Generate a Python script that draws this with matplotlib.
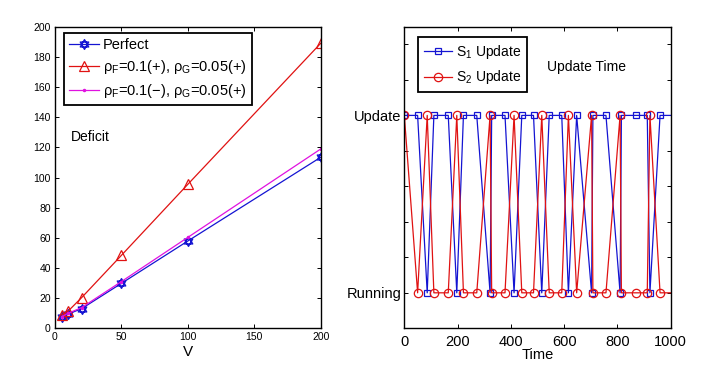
import matplotlib
matplotlib.use("Agg")
import matplotlib.pyplot as plt
from matplotlib.path import Path

plt.rcParams['font.family'] = ['Liberation Sans', 'DejaVu Sans']
plt.rcParams['mathtext.fontset'] = 'custom'
plt.rcParams['mathtext.rm'] = 'Liberation Sans'
plt.rcParams['mathtext.it'] = 'Liberation Sans'
plt.rcParams['mathtext.default'] = 'regular'

# ---- Left panel data ----
V = [5, 10, 20, 50, 100, 200]
perfect = [7.7, 9.5, 13.0, 29.8, 57.9, 113.4]
rho_pp = [8.8, 11.5, 20.3, 48.4, 95.5, 189.0]
rho_mp = [7.7, 10.0, 13.7, 31.0, 60.3, 118.9]
left_labels = ['Perfect',
               r'$\rho_F$=0.1(+), $\rho_G$=0.05(+)',
               r'$\rho_F$=0.1(−), $\rho_G$=0.05(+)']

# ---- Right panel data ----
times = [0, 50, 86, 111, 165, 197, 222, 272, 322, 328, 378, 412, 441, 485,
         516, 544, 591, 616, 647, 703, 708, 757, 810, 815, 870, 912, 922, 960, 1000]
s1 = [1, 1, 0, 1, 1, 0, 1, 1, 0, 1, 1, 0, 1, 1,
      0, 1, 1, 0, 1, 0, 1, 1, 0, 1, 1, 1, 0, 1, 1]
s2 = [1, 0, 1, 0, 0, 1, 0, 0, 1, 0, 0, 1, 0, 0,
      1, 0, 0, 1, 0, 1, 0, 0, 1, 0, 0, 0, 1, 0, 0]
right_labels = ['S$_1$ Update', 'S$_2$ Update']
state_names = ['Running', 'Update']

# hexagram marker (two overlapping triangles)
hexagram = Path(
    [(0, 1), (-0.866, -0.5), (0.866, -0.5), (0, 1),
     (0, -1), (-0.866, 0.5), (0.866, 0.5), (0, -1)],
    [Path.MOVETO, Path.LINETO, Path.LINETO, Path.CLOSEPOLY,
     Path.MOVETO, Path.LINETO, Path.LINETO, Path.CLOSEPOLY])

fig = plt.figure(figsize=(7.06, 3.75), dpi=100)
W, H = 706, 375
bottom = (H - 328.3) / H
top = (H - 26.7) / H
ax1 = fig.add_axes([55 / W, bottom, (320.7 - 55) / W, top - bottom])
ax2 = fig.add_axes([404.3 / W, bottom, (670.7 - 404.3) / W, top - bottom])

blue = '#1414d2'
red = '#e01212'
mag = '#e012e0'
lw = 0.9
ax1.plot(V, perfect, color=blue, lw=lw, marker=hexagram, ms=7, mfc='none',
         mec=blue, mew=1.0, label=left_labels[0])
ax1.plot(V, rho_pp, color=red, lw=lw, marker='^', ms=7.5, mfc='none',
         mec=red, mew=0.9, label=left_labels[1])
ax1.plot(V, rho_mp, color=mag, lw=lw, marker='.', ms=3,
         label=left_labels[2])
ax1.set_xlim(0, 200)
ax1.set_ylim(0, 200)
ax1.set_xticks([0, 50, 100, 150, 200])
ax1.set_yticks(range(0, 201, 20))
ax1.tick_params(direction='in', top=True, right=True, labelsize=7.5, length=3,
                width=0.7, pad=3)
ax1.set_xlabel('V', fontsize=11, labelpad=2)
ax1.text(12, 126.8, 'Deficit', fontsize=10, va='center', ha='left')
leg1 = ax1.legend(loc='upper left', bbox_to_anchor=(0.035, 0.978), fontsize=10.5,
                  fancybox=False, edgecolor='black', framealpha=1,
                  handlelength=2.0, borderpad=0.35, labelspacing=0.4,
                  handletextpad=0.3, borderaxespad=0)
leg1.get_frame().set_linewidth(1.3)

n = len(times)
mk = list(range(n - 1))
ax2.plot(times, s1, color=blue, lw=lw, marker='s', ms=4.5, mfc='none',
         mec=blue, mew=0.9, markevery=mk, label=right_labels[0])
ax2.plot(times, s2, color=red, lw=lw, marker='o', ms=6, mfc='none',
         mec=red, mew=0.9, markevery=mk, label=right_labels[1])
ax2.set_xlim(0, 1000)
ax2.set_ylim(-0.2, 1.5)
ax2.set_xticks([0, 200, 400, 600, 800, 1000])
ax2.set_yticks([-0.2, 0, 0.2, 0.4, 0.6, 0.8, 1.0, 1.2, 1.4])
ax2.set_yticklabels(['', state_names[0], '', '', '', '', state_names[1], '', ''])
ax2.tick_params(direction='in', top=True, right=True, labelsize=10.5, length=3,
                width=0.7)
ax2.tick_params(axis='x', pad=5)
ax2.tick_params(axis='y', pad=2)
ax2.set_xlabel('Time', fontsize=10.5, labelpad=-1)
ax2.text(534, 1.275, 'Update Time', fontsize=10, va='center', ha='left')
leg2 = ax2.legend(loc='upper left', bbox_to_anchor=(0.0526, 0.965), fontsize=10,
                  fancybox=False, edgecolor='black', framealpha=1,
                  handlelength=2.0, borderpad=0.4, labelspacing=0.55,
                  handletextpad=0.3, borderaxespad=0)
leg2.get_frame().set_linewidth(1.3)

for ax in (ax1, ax2):
    for s in ax.spines.values():
        s.set_linewidth(1.0)

fig.savefig('out.png', dpi=100)
